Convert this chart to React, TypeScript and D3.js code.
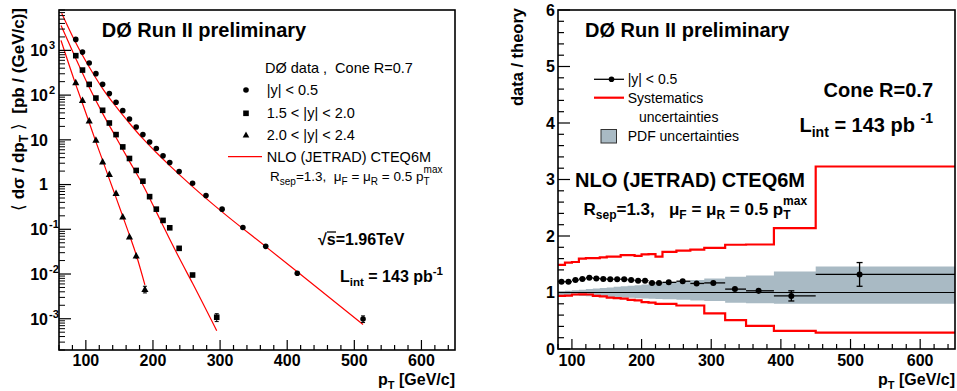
import React from "react";
import * as d3 from "d3";

const FONT = "'Liberation Sans', Arial, Helvetica, sans-serif";
const NB = "\u00A0";

// ---------- Left panel data: <dσ/dpT> [pb/(GeV/c)] ----------
const ptCentral = [85, 95, 105, 115, 125, 135, 145, 155, 165, 175, 185, 195, 205, 215, 225, 239, 259, 279, 303, 334, 368, 415, 513];
const xsCentral = [1760, 916, 521, 302, 174, 108, 69, 45, 29.3, 19.4, 13.1, 8.98, 6.4, 4.38, 3.11, 1.96, 1.07, 0.571, 0.282, 0.11, 0.0415, 0.0104, 0.00099];
const errCentral = [0.02, 0.02, 0.02, 0.02, 0.02, 0.02, 0.02, 0.02, 0.02, 0.02, 0.02, 0.02, 0.02, 0.02, 0.02, 0.02, 0.02, 0.02, 0.03, 0.04, 0.05, 0.08, 0.17];

const ptMid = [85, 95, 105, 115, 125, 135, 145, 155, 165, 175, 185, 195, 205, 215, 225, 239, 259, 295];
const xsMid = [762, 363, 174, 86, 45.8, 23.8, 13.1, 6.95, 3.83, 2.07, 1.19, 0.537, 0.282, 0.158, 0.108, 0.0375, 0.0095, 0.00108];
const errMid = [0.02, 0.02, 0.02, 0.02, 0.02, 0.02, 0.02, 0.02, 0.03, 0.03, 0.03, 0.04, 0.04, 0.05, 0.05, 0.06, 0.1, 0.2];

const ptFwd = [85, 95, 105, 115, 125, 135, 145, 155, 165, 175, 188];
const xsFwd = [190, 76.6, 26.4, 9.8, 3.21, 1.68, 0.632, 0.19, 0.068, 0.0253, 0.00455];
const errFwd = [0.02, 0.02, 0.03, 0.03, 0.03, 0.04, 0.05, 0.06, 0.08, 0.15, 0.17];

// NLO (JETRAD) CTEQ6M curves
const nloCentralPt = [64, 85, 105, 125, 145, 165, 185, 205, 225, 259, 303, 368, 415, 513];
const nloCentral = [6800, 1480, 425, 140, 55, 23.5, 10.6, 5.2, 2.65, 0.9, 0.245, 0.041, 0.0112, 0.00074];
const nloMidPt = [63, 85, 105, 125, 145, 165, 185, 205, 225, 239, 259, 295];
const nloMid = [3614, 660, 150, 39, 11.3, 3.3, 0.98, 0.245, 0.06, 0.023, 0.0062, 0.00054];
const nloFwdPt = [63, 85, 95, 105, 115, 125, 135, 145, 155, 165, 175, 188];
const nloFwd = [1670, 172, 65, 24.5, 9.0, 3.47, 1.32, 0.51, 0.195, 0.074, 0.027, 0.0057];

// ---------- Right panel data: data / theory, |y| < 0.5 ----------
const binEdges = [80, 90, 100, 110, 120, 130, 140, 150, 160, 170, 180, 190, 200, 210, 220, 230, 250, 270, 290, 320, 350, 390, 450, 650];
const ratio = [1.19, 1.19, 1.22, 1.24, 1.26, 1.25, 1.24, 1.235, 1.235, 1.235, 1.22, 1.21, 1.21, 1.17, 1.17, 1.18, 1.2, 1.16, 1.17, 1.06, 1.03, 0.94, 1.32];
const ratioErr = [0.01, 0.01, 0.01, 0.01, 0.01, 0.01, 0.01, 0.01, 0.01, 0.01, 0.01, 0.01, 0.01, 0.01, 0.01, 0.01, 0.015, 0.015, 0.02, 0.035, 0.05, 0.09, 0.21];
const sysUp = [1.49, 1.53, 1.54, 1.6, 1.61, 1.61, 1.62, 1.635, 1.635, 1.66, 1.66, 1.65, 1.675, 1.68, 1.635, 1.72, 1.74, 1.76, 1.79, 1.845, 1.85, 2.14, 3.23];
const sysDown = [0.94, 0.945, 0.965, 0.968, 0.965, 0.94, 0.93, 0.91, 0.9, 0.89, 0.87, 0.86, 0.83, 0.82, 0.8, 0.8, 0.77, 0.77, 0.63, 0.51, 0.41, 0.32, 0.29];
const pdfUp = [1.02, 1.03, 1.04, 1.05, 1.06, 1.07, 1.08, 1.09, 1.1, 1.11, 1.12, 1.13, 1.14, 1.15, 1.16, 1.18, 1.2, 1.22, 1.25, 1.28, 1.3, 1.37, 1.46];
const pdfDown = [0.955, 0.95, 0.945, 0.94, 0.935, 0.93, 0.925, 0.92, 0.915, 0.91, 0.905, 0.9, 0.895, 0.89, 0.885, 0.88, 0.87, 0.86, 0.85, 0.82, 0.81, 0.8, 0.8];
const ratioPt = [85, 95, 105, 115, 125, 135, 145, 155, 165, 175, 185, 195, 205, 215, 225, 239, 259, 279, 303, 334, 368, 415, 513];

const xTicksMajor = [100, 200, 300, 400, 500, 600];
const logDecades = [-3, -2, -1, 0, 1, 2, 3];
const ratioTicks = [0, 1, 2, 3, 4, 5, 6];

const BOLD = 700;

function LeftPanel() {
  const X0 = 59, X1 = 455, Y0 = 10, Y1 = 350;
  const x = d3.scaleLinear().domain([60, 650]).range([X0, X1]);
  const y = d3.scaleLog().domain([2e-4, 8e3]).range([Y1, Y0]);
  const line = d3
    .line<[number, number]>()
    .x((d) => x(d[0]))
    .y((d) => y(d[1]))
    .curve(d3.curveMonotoneX);

  const minorX: number[] = d3.range(60, 651, 20).filter((v) => v % 100 !== 0);
  const minorY: number[] = [];
  for (let e = -4; e <= 3; e++) {
    for (let m = 2; m <= 9; m++) {
      const v = m * Math.pow(10, e);
      if (v >= 2e-4 && v <= 8e3) minorY.push(v);
    }
  }

  const curves = [
    { pt: nloCentralPt, v: nloCentral },
    { pt: nloMidPt, v: nloMid },
    { pt: nloFwdPt, v: nloFwd },
  ];

  const errBar = (pt: number, v: number, e: number, k: string) => {
    const yt = y(v * (1 + e));
    const yb = y(v * (1 - e));
    const xc = x(pt);
    return (
      <g key={k} stroke="#000" strokeWidth={1}>
        <line x1={xc} x2={xc} y1={yt} y2={yb} />
        {yb - yt > 6 && <line x1={xc - 2} x2={xc + 2} y1={yt} y2={yt} />}
        {yb - yt > 6 && <line x1={xc - 2} x2={xc + 2} y1={yb} y2={yb} />}
      </g>
    );
  };

  const tri = (cx: number, cy: number, s: number) =>
    `M${cx},${cy - s * 0.6}L${cx + s * 0.55},${cy + s * 0.4}L${cx - s * 0.55},${cy + s * 0.4}Z`;

  return (
    <g>
      <defs>
        <clipPath id="clipL">
          <rect x={X0} y={Y0} width={X1 - X0} height={Y1 - Y0} />
        </clipPath>
      </defs>
      <g clipPath="url(#clipL)">
        {curves.map((c, i) => (
          <path
            key={i}
            d={line(c.pt.map((p, j) => [p, c.v[j]] as [number, number])) || ""}
            fill="none"
            stroke="#ff0000"
            strokeWidth={1.2}
          />
        ))}
      </g>
      {ptCentral.map((p, i) => errBar(p, xsCentral[i], errCentral[i], "ec" + i))}
      {ptMid.map((p, i) => errBar(p, xsMid[i], errMid[i], "em" + i))}
      {ptFwd.map((p, i) => errBar(p, xsFwd[i], errFwd[i], "ef" + i))}
      {ptCentral.map((p, i) => (
        <circle key={"c" + i} cx={x(p)} cy={y(xsCentral[i])} r={2.8} fill="#000" />
      ))}
      {ptMid.map((p, i) => (
        <rect key={"s" + i} x={x(p) - 2.8} y={y(xsMid[i]) - 2.8} width={5.6} height={5.6} fill="#000" />
      ))}
      {ptFwd.map((p, i) => (
        <path key={"t" + i} d={tri(x(p), y(xsFwd[i]), 6.5)} fill="#000" />
      ))}

      {/* frame */}
      <rect x={X0} y={Y0} width={X1 - X0} height={Y1 - Y0} fill="none" stroke="#000" strokeWidth={1.6} />
      {xTicksMajor.map((t) => (
        <line key={"xt" + t} x1={x(t)} x2={x(t)} y1={Y1} y2={Y1 - 10} stroke="#000" strokeWidth={1.2} />
      ))}
      {minorX.map((t) => (
        <line key={"xm" + t} x1={x(t)} x2={x(t)} y1={Y1} y2={Y1 - 5} stroke="#000" strokeWidth={1.2} />
      ))}
      {logDecades.map((e) => (
        <line key={"yt" + e} x1={X0} x2={X0 + 12} y1={y(Math.pow(10, e))} y2={y(Math.pow(10, e))} stroke="#000" strokeWidth={1.2} />
      ))}
      {minorY.map((v, i) => (
        <line key={"ym" + i} x1={X0} x2={X0 + 6} y1={y(v)} y2={y(v)} stroke="#000" strokeWidth={1} />
      ))}
      <g fontFamily={FONT} fontWeight={BOLD} fontSize={16} fill="#000">
        {xTicksMajor.map((t) => (
          <text key={"xl" + t} x={x(t)} y={366} textAnchor="middle">
            {t}
          </text>
        ))}
        {logDecades.map((e) => {
          const yy = y(Math.pow(10, e)) + 5.8;
          if (e === 0) return <text key={"yl" + e} x={48} y={yy} textAnchor="end">1</text>;
          if (e === 1) return <text key={"yl" + e} x={48} y={yy} textAnchor="end">10</text>;
          return (
            <g key={"yl" + e}>
              <text x={48} y={yy} textAnchor="end">10</text>
              <text x={49} y={yy - 7} fontSize={11}>{String(e)}</text>
            </g>
          );
        })}
      </g>
      <text x={455} y={385} textAnchor="end" fontFamily={FONT} fontWeight={BOLD} fontSize={16}>
        <tspan>p</tspan>
        <tspan fontSize={11} dy={4}>T</tspan>
        <tspan dy={-4}>{NB}[GeV/c]</tspan>
      </text>
      <text
        transform="translate(24,8) rotate(-90)"
        textAnchor="end"
        fontFamily={FONT}
        fontWeight={BOLD}
        fontSize={17}
      >
        <tspan fontWeight={400}>⟨</tspan>
        <tspan>{NB}dσ / dp</tspan>
        <tspan fontSize={12} dy={4}>T</tspan>
        <tspan dy={-4}>{NB}</tspan>
        <tspan fontWeight={400}>⟩</tspan>
        <tspan>{NB + NB}[pb / (GeV/c)]</tspan>
      </text>

      <text x={101.7} y={37} fontFamily={FONT} fontWeight={BOLD} fontSize={20}>
        DØ Run II preliminary
      </text>

      {/* legend */}
      <g fontFamily={FONT} fontSize={14.5} fill="#000">
        <text x={265} y={73}>{"DØ data ," + NB + NB + "Cone R=0.7"}</text>
        <circle cx={246} cy={90} r={2.8} fill="#000" />
        <text x={266.7} y={95}>|y| &lt; 0.5</text>
        <rect x={243.2} y={110.5} width={5.6} height={5.6} fill="#000" />
        <text x={266.7} y={118}>1.5 &lt; |y| &lt; 2.0</text>
        <path d={tri(246, 135, 6)} fill="#000" />
        <text x={266.7} y={140}>2.0 &lt; |y| &lt; 2.4</text>
        <line x1={228} x2={262} y1={156.7} y2={156.7} stroke="#ff0000" strokeWidth={1.2} />
        <text x={266.7} y={162}>NLO (JETRAD) CTEQ6M</text>
        <text x={270} y={181} fontSize={13.5}>
          <tspan>R</tspan>
          <tspan fontSize={10} dy={4}>sep</tspan>
          <tspan dy={-4}>{"=1.3," + NB + NB + "μ"}</tspan>
          <tspan fontSize={10} dy={4}>F</tspan>
          <tspan dy={-4}> = μ</tspan>
          <tspan fontSize={10} dy={4}>R</tspan>
          <tspan dy={-4}> = 0.5 p</tspan>
          <tspan fontSize={10} dy={4}>T</tspan>
          <tspan fontSize={10} dx={-6} dy={-12}>max</tspan>
        </text>
      </g>

      <g fontFamily={FONT} fontWeight={BOLD} fontSize={16} fill="#000">
        <text x={318} y={245}>√s=1.96TeV</text>
        <line x1={327} x2={336} y1={232} y2={232} stroke="#000" strokeWidth={1.3} />
        <text x={340} y={282}>
          <tspan>L</tspan>
          <tspan fontSize={11.5} dy={4}>int</tspan>
          <tspan dy={-4}> = 143 pb</tspan>
          <tspan fontSize={11.5} dy={-7}>-1</tspan>
        </text>
      </g>
    </g>
  );
}

function RightPanel() {
  const X0 = 558, X1 = 955, Y0 = 10, Y1 = 349;
  const x = d3.scaleLinear().domain([80, 650]).range([X0, X1]);
  const y = d3.scaleLinear().domain([0, 6]).range([Y1, Y0]);

  const stepPts = (vals: number[]) =>
    binEdges.map((e, i) => [e, vals[Math.min(i, vals.length - 1)]] as [number, number]);
  const stepLine = d3
    .line<[number, number]>()
    .x((d) => x(d[0]))
    .y((d) => y(d[1]))
    .curve(d3.curveStepAfter);
  const bandArea = d3
    .area<number>()
    .x((e) => x(e))
    .y0((_, i) => y(pdfDown[Math.min(i, pdfDown.length - 1)]))
    .y1((_, i) => y(pdfUp[Math.min(i, pdfUp.length - 1)]))
    .curve(d3.curveStepAfter);

  const minorX: number[] = d3.range(80, 651, 20).filter((v) => v % 100 !== 0);
  const minorY: number[] = d3.range(0, 6.01, 0.2).filter((v) => Math.abs(v - Math.round(v)) > 0.01);

  return (
    <g>
      <defs>
        <clipPath id="clipR">
          <rect x={X0} y={Y0} width={X1 - X0} height={Y1 - Y0} />
        </clipPath>
      </defs>
      <g clipPath="url(#clipR)">
        <path d={bandArea(binEdges) || ""} fill="#a9bac4" />
        <path d={stepLine(stepPts(sysUp)) || ""} fill="none" stroke="#ff0000" strokeWidth={2.2} />
        <path d={stepLine(stepPts(sysDown)) || ""} fill="none" stroke="#ff0000" strokeWidth={2.2} />
        <line x1={X0} x2={X1} y1={y(1)} y2={y(1)} stroke="#000" strokeWidth={1.2} />
        {ratioPt.map((p, i) => {
          const yc = y(ratio[i]);
          const yt = y(ratio[i] + ratioErr[i]);
          const yb = y(ratio[i] - ratioErr[i]);
          return (
            <g key={"r" + i} stroke="#000" strokeWidth={1.3}>
              <line x1={x(binEdges[i])} x2={x(binEdges[i + 1])} y1={yc} y2={yc} />
              <line x1={x(p)} x2={x(p)} y1={yt} y2={yb} />
              {yb - yt > 6 && <line x1={x(p) - 3} x2={x(p) + 3} y1={yt} y2={yt} />}
              {yb - yt > 6 && <line x1={x(p) - 3} x2={x(p) + 3} y1={yb} y2={yb} />}
              <circle cx={x(p)} cy={yc} r={3} fill="#000" stroke="none" />
            </g>
          );
        })}
      </g>
      <rect x={X0} y={Y0} width={X1 - X0} height={Y1 - Y0} fill="none" stroke="#000" strokeWidth={1.6} />
      {xTicksMajor.map((t) => (
        <line key={"xt" + t} x1={x(t)} x2={x(t)} y1={Y1} y2={Y1 - 10} stroke="#000" strokeWidth={1.2} />
      ))}
      {minorX.map((t) => (
        <line key={"xm" + t} x1={x(t)} x2={x(t)} y1={Y1} y2={Y1 - 5} stroke="#000" strokeWidth={1.2} />
      ))}
      {ratioTicks.map((t) => (
        <line key={"yt" + t} x1={X0} x2={X0 + 12} y1={y(t)} y2={y(t)} stroke="#000" strokeWidth={1.2} />
      ))}
      {minorY.map((t, i) => (
        <line key={"ym" + i} x1={X0} x2={X0 + 6} y1={y(t)} y2={y(t)} stroke="#000" strokeWidth={1.2} />
      ))}
      <g fontFamily={FONT} fontWeight={BOLD} fontSize={16} fill="#000">
        {xTicksMajor.map((t) => (
          <text key={"xl" + t} x={x(t)} y={366} textAnchor="middle">
            {t}
          </text>
        ))}
        {ratioTicks.map((t) => (
          <text key={"yl" + t} x={555} y={y(t) + 5.8} textAnchor="end">
            {t}
          </text>
        ))}
      </g>
      <text x={955} y={385} textAnchor="end" fontFamily={FONT} fontWeight={BOLD} fontSize={16}>
        <tspan>p</tspan>
        <tspan fontSize={11} dy={4}>T</tspan>
        <tspan dy={-4}>{NB}[GeV/c]</tspan>
      </text>
      <text
        transform="translate(523,8) rotate(-90)"
        textAnchor="end"
        fontFamily={FONT}
        fontWeight={BOLD}
        fontSize={16.5}
      >
        data / theory
      </text>

      <text x={585} y={37} fontFamily={FONT} fontWeight={BOLD} fontSize={20}>
        DØ Run II preliminary
      </text>

      <g fontFamily={FONT} fontSize={14} fill="#000">
        <line x1={594} x2={624} y1={79.3} y2={79.3} stroke="#000" strokeWidth={1.3} />
        <circle cx={611.5} cy={79.3} r={2.8} fill="#000" />
        <text x={627.7} y={84.3}>|y| &lt; 0.5</text>
        <line x1={594} x2={624} y1={97.7} y2={97.7} stroke="#ff0000" strokeWidth={2.2} />
        <text x={627.7} y={102.7}>Systematics</text>
        <text x={639} y={121.7}>uncertainties</text>
        <rect x={601} y={129.5} width={15.5} height={13.5} fill="#a9bac4" stroke="#333" strokeWidth={1} />
        <text x={627.7} y={141}>PDF uncertainties</text>
      </g>

      <g fontFamily={FONT} fontWeight={BOLD} fontSize={20} fill="#000">
        <text x={933} y={97} textAnchor="end">Cone R=0.7</text>
        <text x={933} y={131.5} textAnchor="end">
          <tspan>L</tspan>
          <tspan fontSize={14} dy={5}>int</tspan>
          <tspan dy={-5}>{" = 143 pb" + NB}</tspan>
          <tspan fontSize={14} dy={-9}>-1</tspan>
        </text>
        <text x={575} y={187}>NLO (JETRAD) CTEQ6M</text>
        <text x={583.5} y={215} fontSize={17}>
          <tspan>R</tspan>
          <tspan fontSize={12} dy={4}>sep</tspan>
          <tspan dy={-4}>{"=1.3," + NB + NB + NB + "μ"}</tspan>
          <tspan fontSize={12} dy={4}>F</tspan>
          <tspan dy={-4}> = μ</tspan>
          <tspan fontSize={12} dy={4}>R</tspan>
          <tspan dy={-4}> = 0.5 p</tspan>
          <tspan fontSize={12} dy={4}>T</tspan>
          <tspan fontSize={12} dx={-7.5} dy={-14}>max</tspan>
        </text>
      </g>
    </g>
  );
}

export default function App() {
  return (
    <svg width={957} height={391} viewBox="0 0 957 391" style={{ display: "block", position: "absolute", left: 0, top: 0, background: "#fff" }}>
      <rect x={0} y={0} width={957} height={391} fill="#fff" />
      <LeftPanel />
      <RightPanel />
    </svg>
  );
}
